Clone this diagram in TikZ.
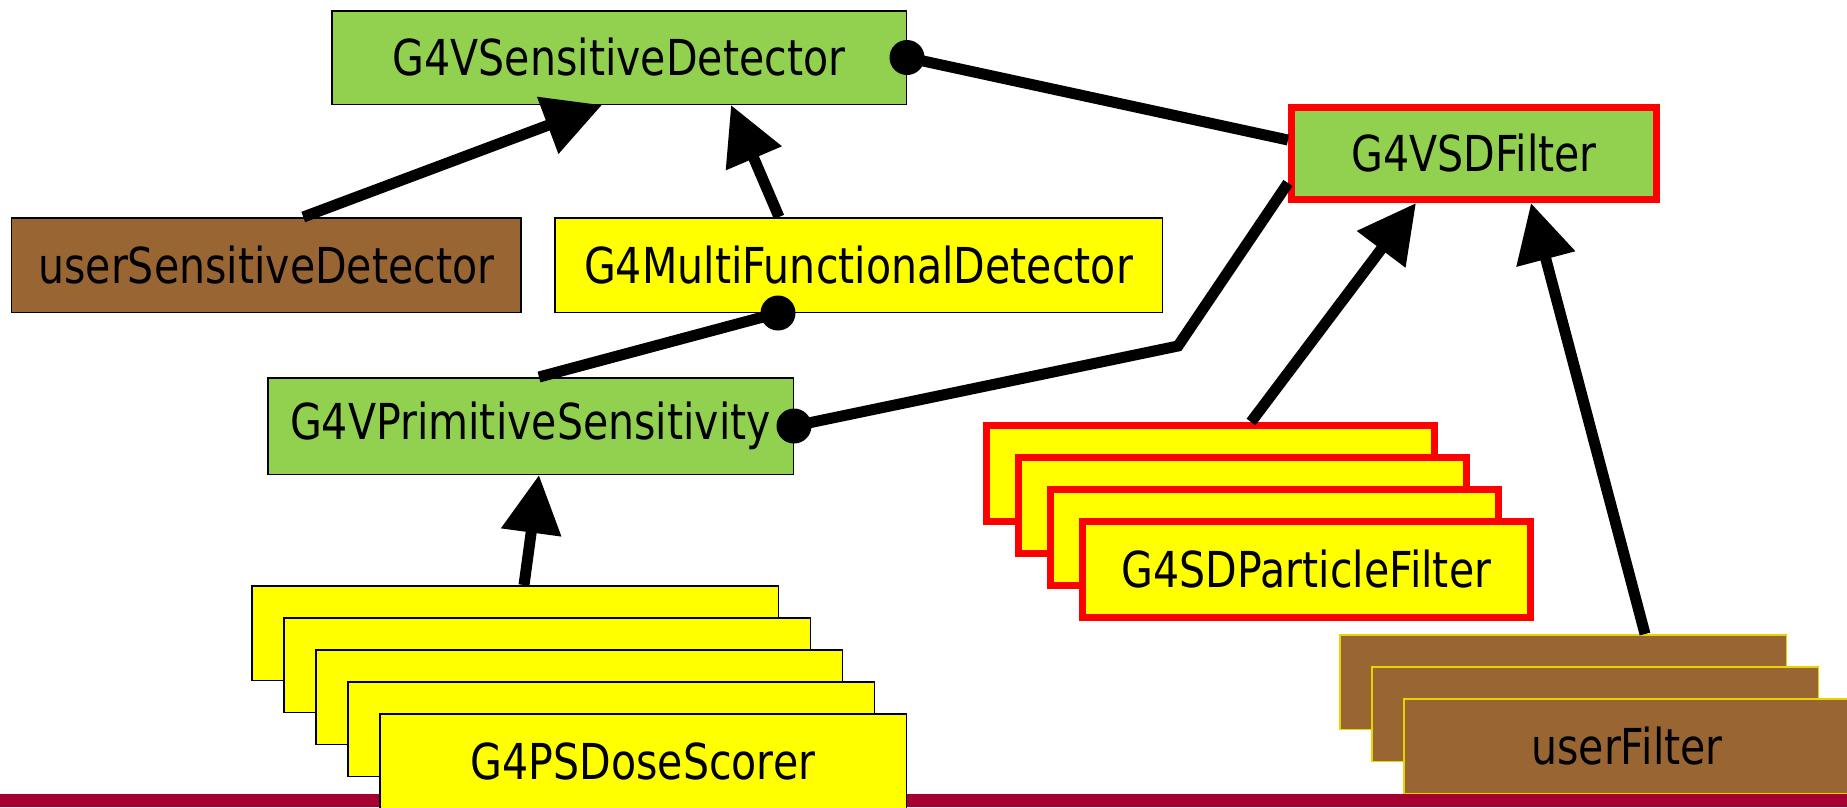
\documentclass[tikz,border=0pt]{standalone}
\usepackage{fontspec}
\setmainfont{DejaVu Sans}[FakeStretch=0.83]
\usetikzlibrary{arrows.meta}
\definecolor{gr}{RGB}{146,208,80}
\definecolor{yl}{RGB}{255,255,0}
\definecolor{br}{RGB}{153,102,51}
\definecolor{rd}{RGB}{255,0,0}
\definecolor{barc}{RGB}{165,0,48}
\definecolor{ylb}{RGB}{232,212,0}
\tikzset{
  box/.style={draw=black, line width=1.5pt, inner sep=0pt, text=black,
    font=\fontsize{49.5}{55}\selectfont},
  greenbox/.style={box, fill=gr},
  yellowbox/.style={box, fill=yl},
  brownbox/.style={box, fill=br},
  redbox/.style={box, draw=rd, line width=7pt},
  ufbox/.style={box, fill=br, draw=ylb, line width=1.5pt},
  conn/.style={draw=black, line width=11pt},
  arr/.style={conn, -{Triangle[length=58pt,width=58pt]}},
  dot/.style={fill=black}
}
\begin{document}
\begin{tikzpicture}[x=1pt,y=-1pt]
\useasboundingbox (0,0) rectangle (1847,807);
\clip (0,0) rectangle (1847,807);
\fill[barc] (0,794) rectangle (1847,807);

% top nodes
\node[greenbox, minimum width=574.5pt, minimum height=93.5pt] (sens) at (619,57.5) {G4VSensitiveDetector};
\node[redbox, fill=gr, minimum width=365pt, minimum height=92pt] (filt) at (1474,153.5) {G4VSDFilter};
\node[brownbox, minimum width=509.5pt, minimum height=94.5pt] (usd) at (266.3,265) {userSensitiveDetector};
\node[yellowbox, minimum width=607.5pt, minimum height=94.5pt] (mfd) at (858.5,265) {G4MultiFunctionalDetector};
\node[greenbox, minimum width=525.5pt, minimum height=96.5pt] (prim) at (530.5,426) {G4VPrimitiveSensitivity};

% dose scorer stack
\foreach \i in {0,...,3}{
  \node[yellowbox, minimum width=526.5pt, minimum height=94.5pt] (dose\i) at (515+32*\i,633+32*\i) {};
}
\node[yellowbox, minimum width=526.5pt, minimum height=94.5pt] (dose4) at (515+128,633+128) {G4PSDoseScorer};

% particle filter stack
\foreach \i in {0,...,2}{
  \node[redbox, fill=yl, minimum width=448pt, minimum height=96pt] (part\i) at (1210.5+32*\i,473.5+32*\i) {};
}
\node[redbox, fill=yl, minimum width=448pt, minimum height=96pt] (part3) at (1210.5+96,473.5+96) {G4SDParticleFilter};

% user filter stack
\foreach \i in {0,1}{
  \node[ufbox, minimum width=446.5pt, minimum height=94.5pt] (uf\i) at (1563+32*\i,682+32*\i) {};
}
\node[ufbox, minimum width=446.5pt, minimum height=94.5pt] (uf2) at (1563+64,682+64) {userFilter};

% connectors
\draw[arr] ([xshift=37pt]usd.north) -- ([xshift=-17pt]sens.south);
\draw[arr] ([xshift=-79.5pt]mfd.north) -- ([xshift=112pt]sens.south);
\draw[arr] ([xshift=9pt]dose0.north) -- ([xshift=8.5pt]prim.south);
\draw[arr] ([xshift=40.5pt]part0.north) -- ([xshift=-58pt]filt.south);
\draw[arr] ([xshift=82pt]uf0.north) -- ([xshift=57pt]filt.south);

\draw[conn] (sens.east) -- ([yshift=13.5pt]filt.west);
\fill[dot] (sens.east) circle (17.5);

\coordinate (bend) at (1178,346);
\draw[conn] (prim.east) -- (bend) -- ([yshift=-29.5pt]filt.west);
\fill[dot] (prim.east) circle (17.5);

\draw[conn] ([xshift=8.5pt]prim.north) -- ([xshift=-80.5pt]mfd.south);
\fill[dot] ([xshift=-80.5pt]mfd.south) circle (17.5);
\end{tikzpicture}
\end{document}
